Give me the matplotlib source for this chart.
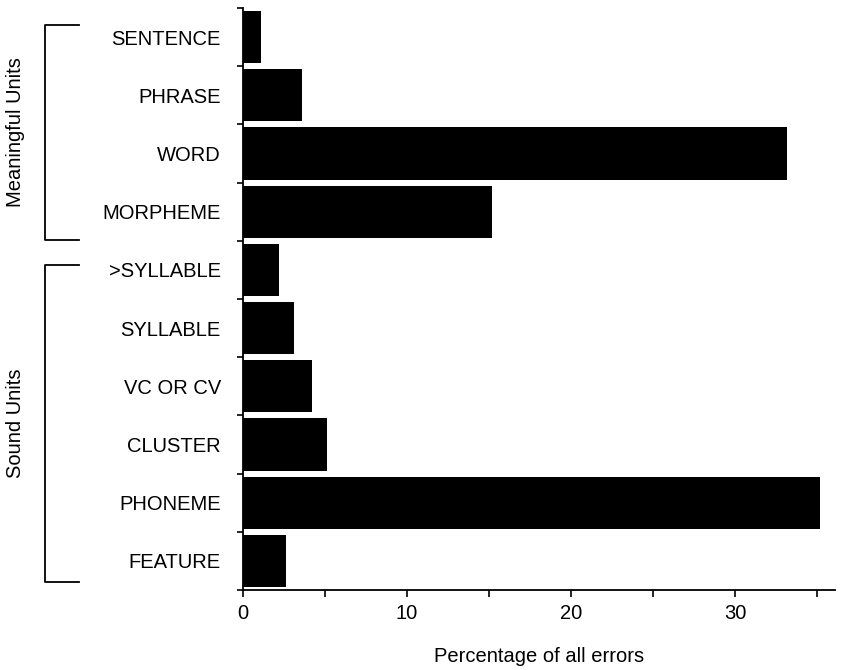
import matplotlib
matplotlib.use("Agg")
import matplotlib.pyplot as plt
from matplotlib.lines import Line2D
from matplotlib.transforms import blended_transform_factory

plt.rcParams['font.family'] = ['Liberation Sans', 'DejaVu Sans']

# --- datos ---
categorias = ['SENTENCE', 'PHRASE', 'WORD', 'MORPHEME', '>SYLLABLE',
              'SYLLABLE', 'VC OR CV', 'CLUSTER', 'PHONEME', 'FEATURE']
porcentajes = [1.1, 3.6, 33.2, 15.2, 2.2, 3.1, 4.2, 5.1, 35.2, 2.6]
grupos = ['Meaningful Units', 'Sound Units']

fs = 14.5

fig = plt.figure(figsize=(8.54, 6.7), dpi=100)
ax = fig.add_axes([243 / 854, 80 / 670, 592 / 854, 582 / 670])

pos = list(range(len(categorias)))
ax.barh(pos, porcentajes, height=0.9, color='black', align='center')

ax.set_ylim(len(categorias) - 0.5, -0.5)
ax.set_xlim(0, 36.1)

ax.set_yticks(pos)
ax.set_yticklabels(categorias, fontsize=fs)
ax.set_yticks([p - 0.5 for p in range(len(categorias) + 1)], minor=True)
ax.tick_params(axis='y', which='major', length=0, pad=16)
ax.tick_params(axis='y', which='minor', length=4, width=1.2, direction='out')

ax.set_xticks([0, 10, 20, 30])
ax.set_xticks([5, 15, 25, 35], minor=True)
ax.tick_params(axis='x', which='both', length=5, width=1.2, direction='out',
               labelsize=fs, pad=5)
ax.set_xlabel('Percentage of all errors', fontsize=fs, labelpad=17)

for s in ['top', 'right']:
    ax.spines[s].set_visible(False)
for s in ['left', 'bottom']:
    ax.spines[s].set_linewidth(1.3)

# --- corchetes de grupo ---
tr = blended_transform_factory(fig.transFigure, ax.transData)
x0, x1 = 45 / 854, 79 / 854
tramos = [(-0.21, 3.49), (3.92, 9.36)]
for (ya, yb), nombre in zip(tramos, grupos):
    fig.add_artist(Line2D([x1, x0, x0, x1], [ya, ya, yb, yb], transform=tr,
                          color='black', lw=1.3))
    fig.text(16 / 854, (ya + yb) / 2, nombre, rotation=90, fontsize=fs,
             ha='center', va='center', transform=tr)

fig.savefig('out.png', dpi=100)
